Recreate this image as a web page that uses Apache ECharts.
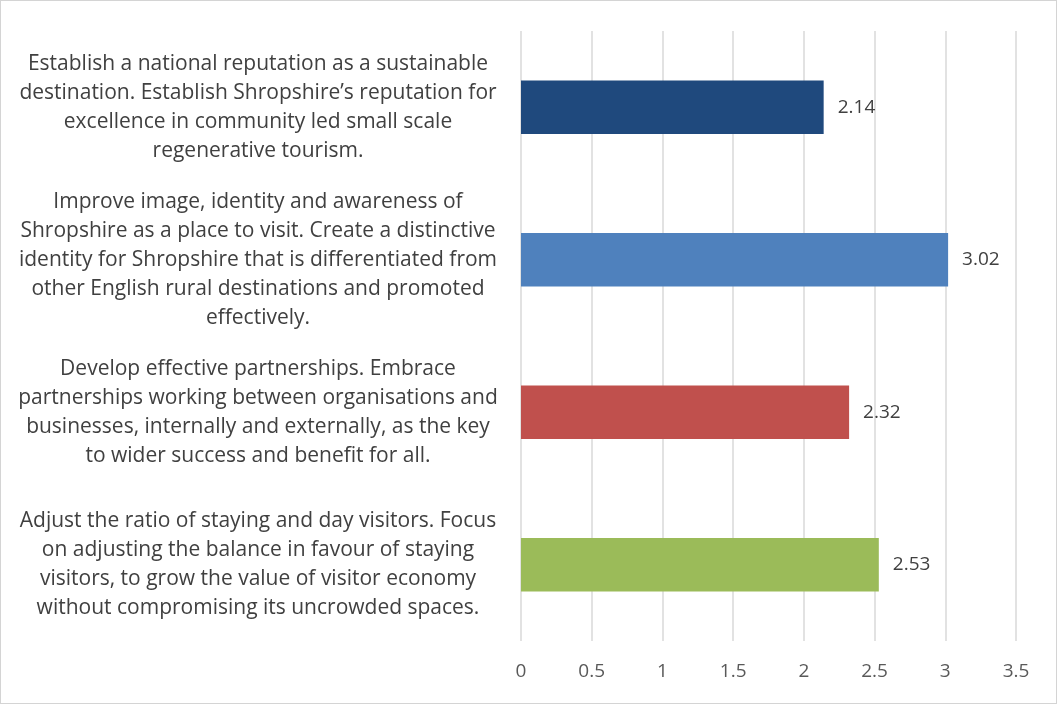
<!DOCTYPE html>
<html>
<head>
<meta charset="utf-8">
<script src="https://cdn.jsdelivr.net/npm/echarts@6/dist/echarts.min.js"></script>
<style>
html,body{margin:0;padding:0;background:#fff;}
#frame{width:1057px;height:704px;box-sizing:border-box;border:1px solid #d4d4d4;position:relative;}
#chart{position:absolute;left:0;top:0;width:1055px;height:702px;}
</style>
</head>
<body>
<div id="frame"><div id="chart"></div></div>
<script>
const categories = [
  "Establish a national reputation as a sustainable\ndestination. Establish Shropshire\u2019s reputation for\nexcellence in community led small scale\nregenerative tourism.",
  "Improve image, identity and awareness of\nShropshire as a place to visit. Create a distinctive\nidentity for Shropshire that is differentiated from\nother English rural destinations and promoted\neffectively.",
  "Develop effective partnerships. Embrace\npartnerships working between organisations and\nbusinesses, internally and externally, as the key\nto wider success and benefit for all.",
  "Adjust the ratio of staying and day visitors. Focus\non adjusting the balance in favour of staying\nvisitors, to grow the value of visitor economy\nwithout compromising its uncrowded spaces."
];
const values = [2.14, 3.02, 2.32, 2.53];
const barColors = ["#1F497D", "#4F81BD", "#C0504D", "#9BBB59"];
const xTicks = { min: 0, max: 3.5, interval: 0.5 };

const chart = echarts.init(document.getElementById('chart'));
const font = "'Open Sans', 'Noto Sans', sans-serif";
chart.setOption({
  animation: false,
  grid: { left: 520, right: 40, top: 30, bottom: 62, containLabel: false },
  xAxis: {
    type: 'value',
    min: xTicks.min, max: xTicks.max, interval: xTicks.interval,
    axisLine: { show: false },
    axisTick: { show: false },
    splitLine: { lineStyle: { color: '#d9d9d9', width: 1.5 } },
    axisLabel: { color: '#595959', fontSize: 19, fontFamily: font, margin: 21 }
  },
  yAxis: {
    type: 'category',
    inverse: true,
    data: categories,
    axisLine: { show: false },
    axisTick: { show: false },
    axisLabel: {
      color: '#404040', fontSize: 21, fontFamily: font,
      align: 'center', lineHeight: 29, margin: 263
    }
  },
  series: [{
    type: 'bar',
    data: values.map((v, i) => ({ value: v, itemStyle: { color: barColors[i] } })),
    barCategoryGap: '65%',
    label: {
      show: true, position: 'right', distance: 14,
      color: '#404040', fontSize: 19, fontFamily: font
    }
  }]
});
</script>
</body>
</html>
